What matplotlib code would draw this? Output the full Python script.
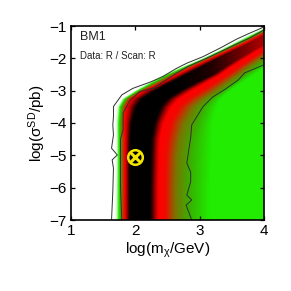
import numpy as np
import matplotlib
matplotlib.use("Agg")
import matplotlib.pyplot as plt
from matplotlib.colors import LinearSegmentedColormap

plt.rcParams['font.family'] = ['Liberation Sans', 'DejaVu Sans']
plt.rcParams['mathtext.default'] = 'regular'

rows = [-7.0, -6.0, -5.0, -4.5, -4.0, -3.5, -3.25, -3.0, -2.75, -2.5, -2.25, -2.0, -1.75, -1.5, -1.25, -1.0]

# x position (log m) of each colour band edge, per row
white_edge = [1.67, 1.68, 1.69, 1.69, 1.68, 1.70, 1.78, 1.98, 2.19, 2.42, 2.72, 3.03, 3.29, 3.53, 3.78, 4.06]
green_edge = [1.74, 1.74, 1.74, 1.74, 1.74, 1.76, 1.83, 2.03, 2.26, 2.50, 2.78, 3.07, 3.34, 3.60, 3.85, 4.10]
red_edge = [1.83, 1.83, 1.83, 1.83, 1.83, 1.85, 1.92, 2.12, 2.40, 2.64, 2.90, 3.17, 3.44, 3.72, 3.97, 4.22]
black_edge = [1.92, 1.92, 1.92, 1.93, 1.95, 2.03, 2.12, 2.32, 2.55, 2.80, 3.05, 3.30, 3.58, 3.85, 4.10, 4.35]
black_end = [2.22, 2.22, 2.23, 2.24, 2.28, 2.38, 2.48, 2.68, 2.92, 3.18, 3.37, 3.56, 3.76, 3.96, 4.60, 4.80]
red_start = [2.36, 2.36, 2.37, 2.38, 2.44, 2.56, 2.68, 2.88, 3.10, 3.33, 3.50, 3.70, 3.90, 4.12, 4.75, 4.95]
red_end = [2.47, 2.47, 2.48, 2.51, 2.56, 2.70, 2.85, 3.05, 3.25, 3.45, 3.62, 3.82, 4.02, 4.25, 4.90, 5.10]
olive_end = [2.62, 2.62, 2.64, 2.68, 2.75, 2.90, 3.05, 3.25, 3.42, 3.60, 3.77, 3.95, 4.15, 4.40, 5.00, 5.20]
dark_end = [2.85, 2.85, 2.87, 2.90, 2.98, 3.08, 3.20, 3.38, 3.55, 3.72, 3.90, 4.10, 4.30, 4.55, 5.10, 5.30]
green_end = [3.16, 3.16, 3.18, 3.19, 3.20, 3.27, 3.33, 3.48, 3.65, 3.85, 4.03, 4.25, 4.45, 4.70, 5.20, 5.40]

# peak darkness falls off along the ridge towards high mass
peak_x = [1.0, 2.6, 3.0, 3.4, 4.0]
peak_v = [1.0, 1.0, 0.95, 0.88, 0.76]

# contours
outer_x = [1.63, 1.65, 1.66, 1.64, 1.72, 1.63, 1.66, 1.65, 1.66, 1.66, 1.79, 1.96, 2.25, 2.43, 2.64, 2.80, 3.05, 3.32, 3.58, 3.78, 4.00]
outer_y = [-7.0, -6.12, -5.4, -5.14, -4.99, -4.78, -4.37, -4.06, -3.8, -3.49, -3.13, -2.93, -2.72, -2.56, -2.31, -2.15, -1.95, -1.68, -1.40, -1.22, -1.03]
inner_x = [1.79, 1.77, 1.77, 1.81, 1.81, 1.92, 2.07, 2.28, 2.64, 2.80, 3.05, 3.32, 3.58, 3.78, 4.00]
inner_y = [-7.0, -6.0, -4.5, -4.21, -3.69, -3.29, -3.03, -2.92, -2.46, -2.27, -2.05, -1.80, -1.55, -1.37, -1.12]
right_x = [2.876, 2.79, 2.876, 2.80, 2.86, 2.86, 2.80, 2.86, 2.876, 3.05, 3.20, 3.40, 3.60, 3.70, 4.00]
right_y = [-7.0, -6.54, -6.38, -6.23, -5.82, -5.52, -5.24, -4.46, -4.06, -3.50, -3.20, -2.95, -2.67, -2.45, -2.20]

best_fit = (2.0, -5.05)

levels = [0.0, 0.30, 0.62, 1.0, 1.0, 0.64, 0.60, 0.47, 0.37, 0.30]
edges = [white_edge, green_edge, red_edge, black_edge, black_end, red_start, red_end, olive_end, dark_end, green_end]

cmap = LinearSegmentedColormap.from_list("chi", [
    (0.0, "#ffffff"), (0.14, "#d8ffd0"), (0.30, "#20ec00"), (0.37, "#38b000"), (0.47, "#7a7400"),
    (0.60, "#f00a00"), (0.64, "#ff0000"), (0.78, "#a00000"), (0.92, "#200000"), (1.0, "#000000")])

xs = np.linspace(1, 4, 260)
ys = np.linspace(-7, -1, 260)
edge_grid = np.array([np.interp(ys, rows, e) for e in edges])
img = np.array([np.interp(xs, edge_grid[:, j], levels) for j in range(len(ys))])
img = np.minimum(img, np.interp(xs, peak_x, peak_v))

fig = plt.figure(figsize=(2.91, 2.91), dpi=100)
ax = fig.add_axes([71/291, 1-220/291, 193/291, 194/291])
ax.imshow(img, origin='lower', extent=[1, 4, -7, -1], aspect='auto', cmap=cmap, vmin=0, vmax=1, interpolation='bilinear')

for cx, cy in [(outer_x, outer_y), (inner_x, inner_y), (right_x, right_y)]:
    ax.plot(cx, cy, color='#303030', lw=0.7)

ax.plot(*best_fit, 'o', ms=10.5, mfc='k', mec='#f2e600', mew=1.8)
ax.plot(*best_fit, 'x', ms=6.5, color='#f2e600', mew=2.2)

ax.set_xlim(1, 4)
ax.set_ylim(-7, -1)
ax.set_xticks([1, 2, 3, 4])
ax.set_yticks([-7, -6, -5, -4, -3, -2, -1])
ax.set_yticklabels(['−7', '−6', '−5', '−4', '−3', '−2', '−1'])
ax.tick_params(direction='in', top=True, right=True, length=3, width=0.9, labelsize=11, pad=3)
for s in ax.spines.values():
    s.set_linewidth(1.2)
ax.set_xlabel(r'log(m$_{\chi}$/GeV)', fontsize=11, labelpad=2)
ax.set_ylabel(r'log($\sigma^{SD}$/pb)', fontsize=11, labelpad=1)
ax.text(1.14, -1.34, 'BM1', fontsize=9, va='center', color='#222222')
ax.text(1.14, -1.93, 'Data: R / Scan: R', fontsize=7, va='center', color='#222222')

fig.savefig('out.png', dpi=100)
